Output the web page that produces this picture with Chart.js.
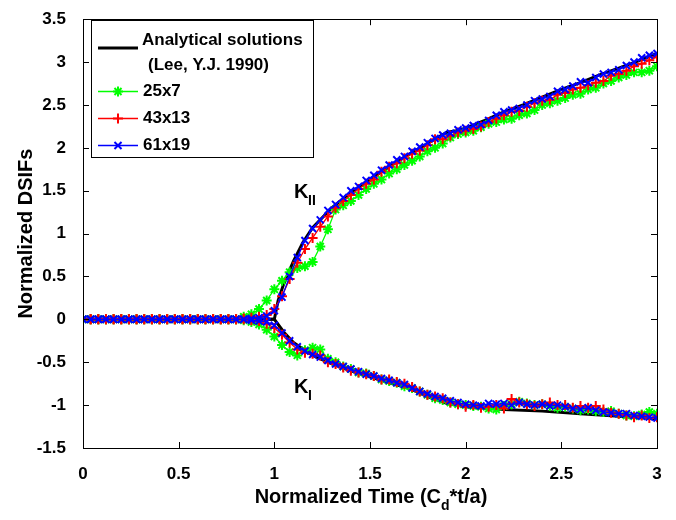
<!DOCTYPE html>
<html><head><meta charset="utf-8">
<script src="https://cdn.jsdelivr.net/npm/chart.js@4"></script>
<style>html,body{margin:0;padding:0;background:#fff}canvas{display:block}</style>
</head><body>
<canvas id="c" width="676" height="520"></canvas>
<script>
// Time grid of numerical solutions
const times = [0,0.04,0.08,0.12,0.16,0.2,0.24,0.28,0.32,0.36,0.4,0.44,0.48,0.52,0.56,0.6,0.64,0.68,0.72,0.76,0.8,
  0.84,0.88,0.92,0.96,1.0,1.04,1.08,1.12,1.16,1.2,1.24,1.28,1.32,1.36,1.4,1.44,1.48,1.52,1.56,1.6,
  1.64,1.68,1.72,1.76,1.8,1.84,1.88,1.92,1.96,2.0,2.04,2.08,2.12,2.16,2.2,2.24,2.28,2.32,2.36,2.4,
  2.44,2.48,2.52,2.56,2.6,2.64,2.68,2.72,2.76,2.8,2.84,2.88,2.92,2.96,3.0];
const Z = [0,0,0,0,0,0,0,0,0,0,0,0,0,0,0,0,0,0,0,0,0];
// 25x7 mesh
const g25_KII = Z.concat([0.03,0.06,0.12,0.22,0.35,0.45,0.55,0.6,0.62,0.67,
  0.85,1.05,1.28,1.33,1.38,1.45,1.52,1.58,1.63,1.70,
  1.75,1.80,1.85,1.90,1.96,2.0,2.05,2.12,2.16,2.18,
  2.20,2.24,2.28,2.30,2.33,2.34,2.38,2.40,2.44,2.50,
  2.52,2.55,2.58,2.62,2.63,2.68,2.70,2.75,2.78,2.82,
  2.85,2.88,2.88,2.90,2.95]);
const g25_KI = Z.concat([-0.01,-0.03,-0.06,-0.12,-0.2,-0.3,-0.38,-0.42,-0.36,-0.33,
  -0.35,-0.46,-0.5,-0.55,-0.58,-0.62,-0.63,-0.66,-0.7,-0.72,
  -0.74,-0.78,-0.8,-0.84,-0.88,-0.92,-0.94,-0.97,-0.99,-1.0,
  -1.01,-1.02,-1.04,-1.05,-1.01,-0.99,-0.96,-0.98,-1.0,-0.99,
  -1.01,-1.03,-1.02,-1.04,-1.06,-1.05,-1.07,-1.08,-1.07,-1.1,
  -1.12,-1.13,-1.11,-1.08,-1.1]);
// 43x13 mesh
const g43_KII = Z.concat([0.01,0.02,0.03,0.05,0.12,0.27,0.47,0.66,0.82,0.95,
  1.08,1.2,1.3,1.38,1.45,1.52,1.58,1.63,1.72,1.78,
  1.82,1.88,1.93,1.97,2.03,2.1,2.1,2.14,2.18,2.2,
  2.22,2.25,2.30,2.34,2.38,2.42,2.43,2.48,2.52,2.55,
  2.56,2.62,2.64,2.68,2.70,2.73,2.76,2.78,2.84,2.86,
  2.90,2.95,2.98,3.02,3.06]);
const g43_KI = Z.concat([0,-0.01,-0.02,-0.05,-0.1,-0.18,-0.27,-0.35,-0.39,-0.4,
  -0.42,-0.5,-0.52,-0.56,-0.6,-0.62,-0.64,-0.66,-0.7,-0.7,
  -0.73,-0.75,-0.79,-0.84,-0.88,-0.9,-0.92,-0.97,-0.99,-1.02,
  -1.0,-1.03,-1.02,-1.0,-1.04,-0.93,-0.97,-0.99,-1.01,-0.99,
  -0.97,-1.0,-1.0,-1.03,-1.01,-1.03,-1.01,-1.05,-1.09,-1.1,
  -1.12,-1.14,-1.12,-1.15,-1.14]);
// 61x19 mesh
const g61_KII = Z.concat([0.0,0.01,0.02,0.04,0.1,0.26,0.5,0.72,0.92,1.06,
  1.16,1.27,1.34,1.42,1.5,1.55,1.62,1.68,1.74,1.8,
  1.86,1.9,1.96,2.01,2.06,2.11,2.15,2.17,2.21,2.23,
  2.26,2.27,2.32,2.38,2.42,2.44,2.46,2.5,2.55,2.57,
  2.60,2.66,2.68,2.72,2.77,2.76,2.82,2.86,2.88,2.91,
  2.96,3.0,3.05,3.08,3.1]);
const g61_KI = Z.concat([0,-0.01,-0.02,-0.03,-0.07,-0.16,-0.25,-0.32,-0.37,-0.41,
  -0.44,-0.48,-0.52,-0.55,-0.58,-0.61,-0.64,-0.66,-0.69,-0.71,
  -0.74,-0.76,-0.8,-0.84,-0.87,-0.9,-0.92,-0.95,-0.97,-0.99,
  -1.0,-1.01,-0.98,-0.99,-0.98,-1.0,-0.97,-0.99,-1.0,-0.99,
  -1.01,-1.0,-1.02,-1.04,-1.05,-1.03,-1.06,-1.08,-1.09,-1.1,
  -1.1,-1.12,-1.13,-1.14,-1.15]);
// Analytical solutions (Lee, Y.J. 1990)
const anaT_KII = [0,1.0,1.02,1.05,1.1,1.15,1.2,1.3,1.4,1.5,1.6,1.7,1.8,1.9,1.95,2.0,2.1,2.2,2.3,2.4,2.5,2.6,2.7,2.8,2.9,3.0];
const ana_KII  = [0,0,0.22,0.42,0.68,0.9,1.07,1.3,1.48,1.63,1.78,1.92,2.05,2.18,2.2,2.23,2.32,2.42,2.5,2.59,2.68,2.76,2.85,2.93,3.01,3.1];
const anaT_KI  = [0,1.0,1.05,1.1,1.2,1.3,1.4,1.5,1.6,1.7,1.8,1.9,2.0,2.2,2.4,2.6,2.8,3.0];
const ana_KI   = [0,0,-0.15,-0.27,-0.42,-0.52,-0.6,-0.67,-0.74,-0.8,-0.9,-0.98,-1.02,-1.05,-1.07,-1.1,-1.13,-1.16];

const xTicks = [0,0.5,1,1.5,2,2.5,3];
const yTicks = [-1.5,-1,-0.5,0,0.5,1,1.5,2,2.5,3,3.5];
const legendLabels = ['Analytical solutions','(Lee, Y.J. 1990)','25x7','43x13','61x19'];

const pts = (xs, ys) => xs.map((x, i) => ({x, y: ys[i]}));
const FONT = '"Liberation Sans", Arial, sans-serif';

const series = [
  {name:'25x7', color:'#00ff00', style:'star', KII:g25_KII, KI:g25_KI, order:3},
  {name:'43x13', color:'#ff0000', style:'cross', KII:g43_KII, KI:g43_KI, order:2},
  {name:'61x19', color:'#0000ff', style:'crossRot', KII:g61_KII, KI:g61_KI, order:1},
];
const datasets = [
  {data: pts(anaT_KII, ana_KII), borderColor:'#000', borderWidth:3, pointRadius:0, showLine:true, order:10},
  {data: pts(anaT_KI, ana_KI), borderColor:'#000', borderWidth:3, pointRadius:0, showLine:true, order:10},
];
series.forEach(s => {
  ['KII','KI'].forEach(k => datasets.push({
    data: pts(times, s[k]), borderColor:s.color, backgroundColor:s.color, borderWidth:1.3,
    pointStyle:s.style, pointRadius:5, pointBorderWidth:2, pointBorderColor:s.color,
    showLine:true, order:s.order
  }));
});

const deco = {
  id:'deco',
  afterDraw(chart){
    const ctx = chart.ctx, a = chart.chartArea, xs = chart.scales.x, ys = chart.scales.y;
    ctx.save();
    ctx.strokeStyle = '#000'; ctx.lineWidth = 1;
    ctx.strokeRect(Math.round(a.left)+0.5, Math.round(a.top)+0.5, Math.round(a.right-a.left), Math.round(a.bottom-a.top));
    ctx.beginPath();
    xTicks.forEach(v => { const p = Math.round(xs.getPixelForValue(v))+0.5;
      ctx.moveTo(p, a.bottom); ctx.lineTo(p, a.bottom-6); ctx.moveTo(p, a.top); ctx.lineTo(p, a.top+6); });
    yTicks.forEach(v => { const p = Math.round(ys.getPixelForValue(v))+0.5;
      ctx.moveTo(a.left, p); ctx.lineTo(a.left+6, p); ctx.moveTo(a.right, p); ctx.lineTo(a.right-6, p); });
    ctx.stroke();

    // legend
    const lx = 91, ly = 20, lw = 222, lh = 137;
    ctx.fillStyle = '#fff'; ctx.fillRect(lx, ly, lw, lh);
    ctx.strokeRect(lx+0.5, ly+0.5, lw, lh);
    ctx.fillStyle = '#000'; ctx.font = 'bold 17px ' + FONT; ctx.textBaseline = 'middle'; ctx.textAlign = 'left';
    ctx.lineWidth = 3; ctx.beginPath(); ctx.moveTo(98, 48); ctx.lineTo(138, 48); ctx.stroke();
    ctx.fillText(legendLabels[0], 142, 40);
    ctx.fillText(legendLabels[1], 148, 65);
    const rows = [91, 118, 145];
    series.forEach((s, i) => {
      const y = rows[i];
      ctx.strokeStyle = s.color; ctx.lineWidth = 1.3;
      ctx.beginPath(); ctx.moveTo(98, y+0.5); ctx.lineTo(138, y+0.5); ctx.stroke();
      ctx.lineWidth = 2;
      Chart.helpers.drawPoint(ctx, {pointStyle:s.style, radius:5, borderWidth:2}, 118, y+0.5);
      ctx.fillStyle = '#000';
      ctx.fillText(legendLabels[i+2], 143, y);
    });

    // curve labels
    ctx.fillStyle = '#000';
    ctx.font = 'bold 20px ' + FONT; ctx.textAlign = 'left'; ctx.textBaseline = 'alphabetic';
    const kx = xs.getPixelForValue(1.155), k2y = ys.getPixelForValue(1.42), k1y = ys.getPixelForValue(-0.86);
    ctx.fillText('K', kx-10, k2y);
    ctx.fillText('K', kx-10, k1y);
    ctx.font = 'bold 14px ' + FONT;
    ctx.fillText('II', kx+4, k2y+7);
    ctx.fillText('I', kx+4, k1y+7);

    // x title with subscript
    const t1 = 'Normalized Time (C', t2 = 'd', t3 = '*t/a)';
    ctx.font = 'bold 14px ' + FONT; const w2 = ctx.measureText(t2).width;
    ctx.font = 'bold 20px ' + FONT;
    const w1 = ctx.measureText(t1).width, w3 = ctx.measureText(t3).width;
    const cx = (a.left + a.right)/2 + 1;
    const sx = cx - (w1+w2+w3)/2; const by = 503;
    ctx.fillText(t1, sx, by);
    ctx.font = 'bold 14px ' + FONT; ctx.fillText(t2, sx+w1, by+7);
    ctx.font = 'bold 20px ' + FONT; ctx.fillText(t3, sx+w1+w2, by);

    // y title
    ctx.translate(26, (a.top+a.bottom)/2);
    ctx.rotate(-Math.PI/2);
    ctx.textAlign = 'center'; ctx.textBaseline = 'middle';
    ctx.fillText('Normalized DSIFs', 0, 0);
    ctx.restore();
  }
};

new Chart(document.getElementById('c'), {
  type:'scatter',
  data:{datasets},
  options:{
    responsive:false, animation:false, devicePixelRatio:1,
    layout:{padding:{top:10, right:19, left:0, bottom:0}},
    plugins:{legend:{display:false}, tooltip:{enabled:false}},
    elements:{line:{tension:0}},
    scales:{
      x:{type:'linear', min:0, max:3,
        afterBuildTicks: s => { s.ticks = xTicks.map(v => ({value:v})); },
        afterFit: s => { s.height = 72; },
        grid:{display:false}, border:{display:false},
        ticks:{color:'#000', padding:8, maxRotation:0, callback: v => String(v), font:{family:FONT, size:17, weight:'bold'}}},
      y:{type:'linear', min:-1.5, max:3.5,
        afterBuildTicks: s => { s.ticks = yTicks.map(v => ({value:v})); },
        afterFit: s => { s.width = 83; },
        grid:{display:false}, border:{display:false},
        ticks:{color:'#000', padding:9, callback: v => String(v), font:{family:FONT, size:17, weight:'bold'}}}
    }
  },
  plugins:[deco]
});
</script>
</body></html>
